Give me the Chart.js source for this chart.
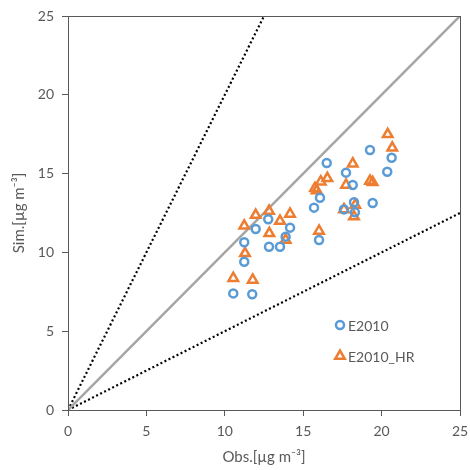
<!DOCTYPE html>
<html>
<head>
<meta charset="utf-8">
<script src="https://cdn.jsdelivr.net/npm/chart.js@4/dist/chart.umd.min.js"></script>
<style>
  html, body { margin: 0; padding: 0; background: #fff; }
  #wrap { width: 470px; height: 470px; }
</style>
</head>
<body>
<div id="wrap"><canvas id="myChart" width="470" height="470"></canvas></div>
<script>
const obsE2010 = [19.26, 20.64, 16.50, 17.73, 20.36, 18.16, 16.07, 15.69, 18.24, 19.43, 17.60, 18.30,
                  12.77, 11.97, 14.16, 13.88, 11.24, 12.82, 13.52, 16.01, 11.24, 10.54, 11.75];
const simE2010 = [16.50, 16.01, 15.67, 15.06, 15.12, 14.28, 13.47, 12.84, 13.18, 13.13, 12.73, 12.54,
                  12.10, 11.48, 11.57, 11.00, 10.64, 10.36, 10.36, 10.79, 9.41, 7.40, 7.34];

const obsHR = [20.39, 20.68, 18.16, 16.54, 16.12, 15.75, 15.86, 17.73, 19.26, 19.43, 17.60, 18.32,
               18.24, 11.97, 12.82, 14.16, 11.24, 13.52, 12.84, 13.88, 16.01, 11.29, 10.54, 11.78];
const simHR = [17.49, 16.64, 15.63, 14.70, 14.49, 14.07, 13.92, 14.28, 14.53, 14.45, 12.73, 13.01,
               12.27, 12.37, 12.63, 12.44, 11.69, 11.99, 11.21, 10.79, 11.36, 9.94, 8.36, 8.25];

// reference lines 1:1, 2:1, 1:2
const line11 = [[0, 0], [25, 25]];
const line21 = [[0, 0], [12.5, 25]];
const line12 = [[0, 0], [25, 12.5]];

const axisMin = 0, axisMax = 25, axisStep = 5;
const seriesNames = ['E2010', 'E2010_HR'];

const txt = '#595959';
const fontFam = 'Lato, "Open Sans", sans-serif';

function pts(xs, ys) { return xs.map((x, i) => ({ x: x, y: ys[i] })); }
function pairs(arr) { return arr.map(p => ({ x: p[0], y: p[1] })); }

// frame round the plot area
const frame = {
    id: 'frame',
    afterDatasetsDraw(chart) {
        const a = chart.chartArea, c = chart.ctx;
        c.save();
        c.strokeStyle = txt;
        c.lineWidth = 1;
        c.strokeRect(Math.round(a.left) + 0.5, Math.round(a.top) + 0.5, Math.round(a.right - a.left), Math.round(a.bottom - a.top));
        c.restore();
    }
};

// legend placed inside the plot
const innerLegend = {
    id: 'innerLegend',
    afterDraw(chart) {
        const c = chart.ctx;
        const rows = [[340, 325], [340, 356]];
        c.save();
        c.font = '14px ' + fontFam;
        c.textBaseline = 'middle';
        [0, 1].forEach(i => {
            const ds = chart.data.datasets[i];
            const r = ds.pointRadius, x = rows[i][0], y = rows[i][1];
            c.strokeStyle = ds.borderColor;
            c.lineWidth = ds.borderWidth;
            c.beginPath();
            if (ds.pointStyle === 'circle') {
                c.arc(x, y, r, 0, Math.PI * 2);
            } else {
                c.moveTo(x, y - r);
                c.lineTo(x + r * Math.sin(2 * Math.PI / 3), y - r * Math.cos(2 * Math.PI / 3));
                c.lineTo(x + r * Math.sin(4 * Math.PI / 3), y - r * Math.cos(4 * Math.PI / 3));
                c.closePath();
            }
            c.stroke();
            c.fillStyle = txt;
            c.fillText(ds.label, x + 8, y + 1);
        });
        c.restore();
    }
};

const ctx = document.getElementById('myChart');

let scatterChart = new Chart(ctx, {
    type: 'scatter',
    data: {
        datasets: [
            {
                label: seriesNames[0],
                data: pts(obsE2010, simE2010),
                pointStyle: 'circle',
                pointRadius: 4,
                borderWidth: 2.5,
                borderColor: '#5B9BD5',
                backgroundColor: 'rgba(0,0,0,0)',
                order: 0
            },
            {
                label: seriesNames[1],
                data: pts(obsHR, simHR),
                pointStyle: 'triangle',
                pointRadius: 5.5,
                borderWidth: 2.5,
                borderColor: '#ED7D31',
                backgroundColor: 'rgba(0,0,0,0)',
                order: 0
            },
            {
                type: 'line',
                label: '1:1',
                data: pairs(line11),
                borderColor: '#A5A5A5',
                borderWidth: 2.5,
                pointRadius: 0,
                fill: false,
                order: 2
            },
            {
                type: 'line',
                label: '2:1',
                data: pairs(line21),
                borderColor: '#000',
                borderWidth: 2.2,
                borderDash: [2, 2.5],
                pointRadius: 0,
                fill: false,
                order: 2
            },
            {
                type: 'line',
                label: '1:2',
                data: pairs(line12),
                borderColor: '#000',
                borderWidth: 2.2,
                borderDash: [2, 2.5],
                pointRadius: 0,
                fill: false,
                order: 2
            }
        ]
    },
    options: {
        responsive: false,
        animation: false,
        layout: { padding: { top: 16, right: 10, left: 0, bottom: 0 } },
        plugins: {
            legend: { display: false },
            tooltip: { enabled: false }
        },
        scales: {
            x: {
                type: 'linear',
                min: axisMin, max: axisMax,
                afterFit(scale) { scale.height = 60; scale.paddingRight = 0; scale.paddingLeft = 0; },
                ticks: { stepSize: axisStep, color: txt, font: { size: 14, family: fontFam }, padding: 7 },
                grid: { drawOnChartArea: false, drawTicks: true, tickLength: 6, color: txt },
                border: { color: txt },
                title: { display: true, text: 'Obs.[µg m⁻³]', color: txt, font: { size: 15, family: fontFam }, padding: { top: 0, bottom: 4 } }
            },
            y: {
                type: 'linear',
                min: axisMin, max: axisMax,
                afterFit(scale) { scale.width = 68; scale.paddingTop = 0; scale.paddingBottom = 0; },
                ticks: { stepSize: axisStep, color: txt, font: { size: 14, family: fontFam }, padding: 8 },
                grid: { drawOnChartArea: false, drawTicks: true, tickLength: 6, color: txt },
                border: { color: txt },
                title: { display: true, text: 'Sim.[µg m⁻³]', color: txt, font: { size: 15, family: fontFam }, padding: { top: 10, bottom: 0 } }
            }
        }
    },
    plugins: [frame, innerLegend]
});
</script>
</body>
</html>
